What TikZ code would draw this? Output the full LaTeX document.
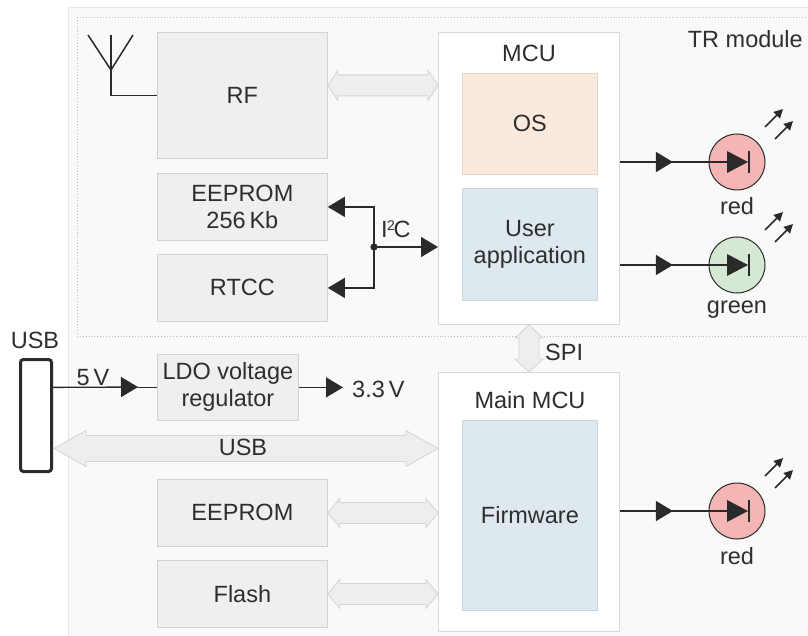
\documentclass[tikz,border=0pt]{standalone}
\usepackage{fontspec}
\setmainfont{Liberation Sans}
\usetikzlibrary{arrows.meta,calc}
\definecolor{txt}{HTML}{2E2E2E}
\definecolor{ln}{HTML}{2A2A2A}
\definecolor{panelfill}{HTML}{F9F9F9}
\definecolor{panelline}{HTML}{E6E6E6}
\definecolor{trline}{HTML}{BDBDBD}
\definecolor{boxfill}{HTML}{EFEFEF}
\definecolor{boxline}{HTML}{D2D2D2}
\definecolor{mculine}{HTML}{D8D8D8}
\definecolor{osfill}{HTML}{FAEADD}
\definecolor{osline}{HTML}{E6D6C8}
\definecolor{appfill}{HTML}{DEE9EF}
\definecolor{appline}{HTML}{CCD7DD}
\definecolor{ledred}{HTML}{F5B5B5}
\definecolor{ledgreen}{HTML}{D4E8D4}
\definecolor{bigfill}{HTML}{EEEEEE}
\definecolor{bigline}{HTML}{D3D3D3}
\newcommand\hdarrow[5]{%
  \filldraw[bigarrow] let \p1=#1, \p2=#2 in
  (\x1,\y1) -- (\x1+#3pt,\y1+#4pt) -- (\x1+#3pt,\y1+#5pt) -- (\x2-#3pt,\y1+#5pt)
  -- (\x2-#3pt,\y1+#4pt) -- (\x2,\y1) -- (\x2-#3pt,\y1-#4pt) -- (\x2-#3pt,\y1-#5pt)
  -- (\x1+#3pt,\y1-#5pt) -- (\x1+#3pt,\y1-#4pt) -- cycle;}
\newcommand\vdarrow[5]{%
  \filldraw[bigarrow] let \p1=#1, \p2=#2 in
  (\x1,\y1) -- (\x1+#4pt,\y1-#3pt) -- (\x1+#5pt,\y1-#3pt) -- (\x1+#5pt,\y2+#3pt)
  -- (\x1+#4pt,\y2+#3pt) -- (\x1,\y2) -- (\x1-#4pt,\y2+#3pt) -- (\x1-#5pt,\y2+#3pt)
  -- (\x1-#5pt,\y1-#3pt) -- (\x1-#4pt,\y1-#3pt) -- cycle;}
\newcommand\ledsym[2]{%
  \node[led, fill=#2] (#1) at (#1pos) {};
  \draw[wire] ($(#1)+(-28,0)$) -- (#1.center);
  \fill[ln] ($(#1)+(-10,-11)$) -- ($(#1)+(11,0)$) -- ($(#1)+(-10,11)$) -- cycle;
  \draw[ln, line width=2.6pt] ($(#1)+(12,-11)$) -- ($(#1)+(12,11)$);
  \draw[light] ($(#1)+(28,-35)$) -- ($(#1)+(46,-53)$);
  \draw[light] ($(#1)+(38,-23)$) -- ($(#1)+(56,-41)$);}
\begin{document}
\begin{tikzpicture}[x=1pt,y=-1pt,
  font=\fontsize{23.5}{27}\selectfont, text=txt,
  blk/.style={draw=boxline, fill=boxfill, line width=0.8pt, inner sep=0pt, anchor=north west, align=center},
  mcubox/.style={draw=mculine, fill=white, line width=0.9pt, inner sep=0pt, anchor=north west},
  osbox/.style={draw=osline, fill=osfill, line width=0.8pt, inner sep=0pt, anchor=north west, align=center},
  appbox/.style={draw=appline, fill=appfill, line width=0.8pt, inner sep=0pt, anchor=north west, align=center},
  lbl/.style={inner sep=0pt, anchor=base},
  wire/.style={draw=ln, line width=1.3pt},
  arr/.style={wire, -{Triangle[length=17pt,width=20pt]}},
  light/.style={draw=ln, line width=1.6pt, -{Triangle[length=9pt,width=9pt]}},
  led/.style={circle, draw=ln, line width=1pt, minimum size=56pt, inner sep=0pt},
  bigarrow/.style={fill=bigfill, draw=bigline, line width=0.8pt},
  usbconn/.style={draw=ln, line width=3pt, rounded corners=3pt, fill=white, inner sep=0pt, minimum width=31pt, minimum height=112pt, anchor=north west}
]
\useasboundingbox (0,0) rectangle (808,636);
% background panels
\draw[panelline, fill=panelfill, line width=1pt] (68,8) rectangle (830,660);
\draw[trline, dotted, line width=0.9pt, fill=panelfill] (77,17) rectangle (830,336);
\node[lbl, anchor=base east] (trlbl) at (803,48) {TR module};

% TR module blocks
\node[blk, minimum width=170pt, minimum height=126pt] (rf) at (157,32) {RF};
\node[mcubox, minimum width=181pt, minimum height=292pt] (mcu) at (438,32) {};
\node[lbl] (mculbl) at (529,62) {MCU};
\node[osbox, minimum width=135pt, minimum height=101pt] (os) at (462,73) {OS};
\node[appbox, minimum width=135pt, minimum height=112pt] (app) at (462,188) {User\\application};
\node[blk, minimum width=170pt, minimum height=67pt] (eeprom) at (157,173) {EEPROM\\256\,Kb};
\node[blk, minimum width=170pt, minimum height=67pt] (rtcc) at (157,254) {RTCC};

% antenna
\coordinate (anttop) at (111,35);
\draw[wire, line width=1.5pt] (88,35) -- (111,70) -- (133,35);
\draw[wire, line width=1.5pt] (anttop) |- (rf.west);

% RF <-> MCU
\hdarrow{($(rf.east)+(0,-10)$)}{(mcu.west)}{10}{15}{10.5}

% I2C
\coordinate (j) at (374,247);
\draw[arr] (j) |- (eeprom.east);
\draw[arr] (j) |- (rtcc.east);
\draw[arr] (j) -- (mcu.west|-j);
\fill[ln] (j) circle (3.6);
\node[lbl, anchor=base west] (i2c) at (381,238) {I\kern-0.5pt\raisebox{7pt}{\fontsize{14}{14}\selectfont 2}\kern-1.5pt C};

% LEDs
\coordinate (led1pos) at (737,162);
\coordinate (led2pos) at (737,265);
\coordinate (led3pos) at (737,511);
\draw[wire] (mcu.east|-led1pos) -- (led1pos);
\draw[arr] (mcu.east|-led1pos) -- ++(53,0);
\draw[wire] (mcu.east|-led2pos) -- (led2pos);
\draw[arr] (mcu.east|-led2pos) -- ++(53,0);
\ledsym{led1}{ledred}
\ledsym{led2}{ledgreen}
\node[lbl] (red1) at (737,215) {red};
\node[lbl] (green1) at (737,313) {green};

% SPI
\node[mcubox, minimum width=181pt, minimum height=259pt] (mmcu) at (438,372) {};
\vdarrow{(mcu.south)}{(mmcu.north)}{13}{14}{10}
\node[lbl, anchor=base west] (spi) at (545,360) {SPI};
\node[lbl] (mmculbl) at (530,408) {Main MCU};
\node[appbox, minimum width=135pt, minimum height=190pt] (fw) at (462,420) {Firmware};

% USB + LDO
\node[usbconn] (usbc) at (19,358) {};
\node[lbl] (usblbl) at (35,348) {USB};
\node[blk, minimum width=141pt, minimum height=66pt] (ldo) at (157,354) {LDO voltage\\regulator};
\draw[wire] (usbc.east|-ldo.west) -- (ldo.west);
\draw[arr] (usbc.east|-ldo.west) -- (138,387);
\node[lbl] (v5) at (93,385) {5\,V};
\node[lbl, anchor=base west] (v33) at (352,397) {3.3\,V};
\draw[arr, shorten >=9pt] (ldo.east) -- (v33.west|-ldo.east);

\hdarrow{($(usbc.east)+(1,33)$)}{(mmcu.west)}{32}{18}{13}
\node[lbl] (usbarr) at (243,455) {USB};

% bottom memories
\node[blk, minimum width=170pt, minimum height=67pt] (eep2) at (157,479) {EEPROM};
\node[blk, minimum width=170pt, minimum height=67pt] (flash) at (157,560) {Flash};
\hdarrow{(eep2.east)}{(mmcu.west)}{12}{14.5}{10.5}
\hdarrow{(flash.east)}{(mmcu.west)}{12}{14.5}{10.5}

% bottom LED
\draw[wire] (mmcu.east|-led3pos) -- (led3pos);
\draw[arr] (mmcu.east|-led3pos) -- ++(53,0);
\ledsym{led3}{ledred}
\node[lbl] (red2) at (737,564) {red};
\end{tikzpicture}
\end{document}
